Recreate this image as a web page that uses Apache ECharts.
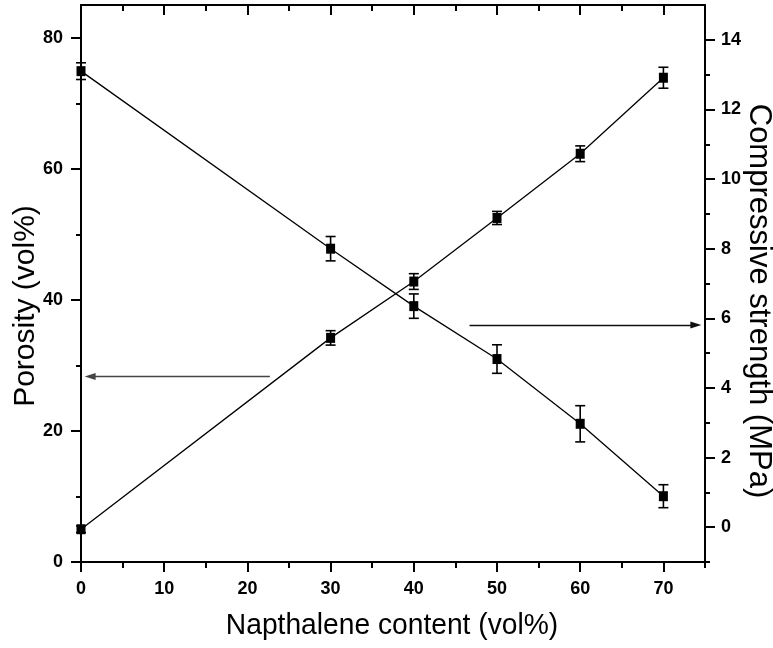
<!DOCTYPE html>
<html>
<head>
<meta charset="utf-8">
<script src="https://cdn.jsdelivr.net/npm/echarts@6/dist/echarts.min.js"></script>
<style>
  html, body { margin: 0; padding: 0; background: #fff; }
  #chart { width: 773px; height: 648px; }
</style>
</head>
<body>
<div id="chart"></div>
<script>
// Napthalene content (vol%) of each sample
const napthalene = [0, 30, 40, 50, 60, 70];
// Porosity (vol%) and its error
const porosity = [5.0, 34.2, 42.8, 52.5, 62.3, 73.9];
const porosityErr = [0.5, 1.1, 1.2, 1.0, 1.2, 1.6];
// Compressive strength (MPa) and its error
const strength = [13.1, 8.0, 6.35, 4.83, 2.97, 0.89];
const strengthErr = [0.24, 0.35, 0.35, 0.41, 0.52, 0.33];

// Tick values
const xMajor = [0, 10, 20, 30, 40, 50, 60, 70];
const xMinor = [5, 15, 25, 35, 45, 55, 65, 75];
const leftMajor = [0, 20, 40, 60, 80];
const leftMinor = [10, 30, 50, 70];
const rightMajor = [0, 2, 4, 6, 8, 10, 12, 14];
const rightMinor = [-1, 1, 3, 5, 7, 9, 11, 13];

// Arrows pointing each curve to its axis: [tail, head] in data units
const porosityArrow = [[22.7, 28.3], [1.1, 28.3]];
const strengthArrow = [[46.7, 5.81], [73.9, 5.81]];

const FONT = 'Liberation Sans, Arial, Helvetica, sans-serif';
const X_RANGE = [0, 75];
const LEFT_RANGE = [0, 85];
const RIGHT_RANGE = [-1, 15];

const tickLabel = { fontFamily: FONT, fontWeight: 'bold', fontSize: 18, color: '#000' };
const axisLine = { show: true, onZero: false, lineStyle: { color: '#000', width: 2 } };
const hiddenLine = { show: false, onZero: false };

function xAxisDef(position, ticks, len, inside, labels) {
  return {
    type: 'value', position: position, min: X_RANGE[0], max: X_RANGE[1],
    axisLine: labels !== null ? axisLine : hiddenLine,
    axisTick: { show: true, inside: inside, length: len, customValues: ticks, lineStyle: { color: '#000', width: 2 } },
    axisLabel: labels ? Object.assign({ show: true, margin: 18, customValues: labels }, tickLabel) : { show: false },
    splitLine: { show: false }
  };
}
function yAxisDef(position, range, ticks, len, labels, margin) {
  return {
    type: 'value', position: position, min: range[0], max: range[1],
    axisLine: labels !== null ? axisLine : hiddenLine,
    axisTick: { show: true, inside: false, length: len, customValues: ticks, lineStyle: { color: '#000', width: 2 } },
    axisLabel: labels ? Object.assign({ show: true, margin: margin, customValues: labels }, tickLabel) : { show: false },
    splitLine: { show: false }
  };
}

function errorSeries(yIndex, vals, errs) {
  return {
    type: 'custom', xAxisIndex: 0, yAxisIndex: yIndex, z: 1, silent: true,
    encode: { x: 0, y: [1, 2] },
    data: napthalene.map((x, i) => [x, vals[i] - errs[i], vals[i] + errs[i]]),
    renderItem: function (params, api) {
      const x = api.value(0);
      const lo = api.coord([x, api.value(1)]);
      const hi = api.coord([x, api.value(2)]);
      const hw = 5;
      const style = { stroke: '#000', lineWidth: 1.6 };
      return {
        type: 'group',
        children: [
          { type: 'line', shape: { x1: lo[0], y1: lo[1], x2: hi[0], y2: hi[1] }, style: style },
          { type: 'line', shape: { x1: lo[0] - hw, y1: lo[1], x2: lo[0] + hw, y2: lo[1] }, style: style },
          { type: 'line', shape: { x1: hi[0] - hw, y1: hi[1], x2: hi[0] + hw, y2: hi[1] }, style: style }
        ]
      };
    }
  };
}

function arrowMark(arrow, color) {
  return {
    silent: true,
    symbol: ['none', 'triangle'],
    symbolSize: [7, 11],
    label: { show: false },
    lineStyle: { color: color, width: 1.4, type: 'solid' },
    emphasis: { disabled: true },
    data: [[{ coord: arrow[0] }, { coord: arrow[1] }]]
  };
}

function lineSeries(name, yIndex, vals, arrow, arrowColor) {
  return {
    name: name, type: 'line', xAxisIndex: 0, yAxisIndex: yIndex, z: 2,
    data: napthalene.map((x, i) => [x, vals[i]]),
    symbol: 'rect', symbolSize: [9, 10], showSymbol: true,
    lineStyle: { color: '#000', width: 1.3 },
    itemStyle: { color: '#000' },
    emphasis: { disabled: true },
    markLine: arrowMark(arrow, arrowColor),
    animation: false
  };
}

const chart = echarts.init(document.getElementById('chart'), null, { renderer: 'canvas' });
chart.setOption({
  animation: false,
  backgroundColor: '#fff',
  grid: { left: 81, right: 68, top: 5, bottom: 86, containLabel: false },
  xAxis: [
    xAxisDef('bottom', xMajor, 10, false, xMajor),
    xAxisDef('bottom', xMinor, 6, false, null),
    xAxisDef('top', xMajor, 10, true, false),
    xAxisDef('top', xMinor, 6, true, null)
  ],
  yAxis: [
    yAxisDef('left', LEFT_RANGE, leftMajor, 10, leftMajor, 18),
    yAxisDef('right', RIGHT_RANGE, rightMajor, 10, rightMajor, 16),
    yAxisDef('left', LEFT_RANGE, leftMinor, 5, null, 0),
    yAxisDef('right', RIGHT_RANGE, rightMinor, 5, null, 0)
  ],
  series: [
    errorSeries(0, porosity, porosityErr),
    errorSeries(1, strength, strengthErr),
    lineSeries('Porosity', 0, porosity, porosityArrow, '#444'),
    lineSeries('Compressive strength', 1, strength, strengthArrow, '#111')
  ],
  graphic: [
    {
      type: 'text', x: 392, y: 626, scaleX: 0.94,
      style: { text: 'Napthalene content (vol%)', fontFamily: FONT, fontSize: 30, fill: '#000', align: 'center', verticalAlign: 'middle' }
    },
    {
      type: 'text', x: 26, y: 306, rotation: Math.PI / 2,
      style: { text: 'Porosity (vol%)', fontFamily: FONT, fontSize: 30, fill: '#000', align: 'center', verticalAlign: 'middle' }
    },
    {
      type: 'text', x: 759, y: 301, rotation: -Math.PI / 2,
      style: { text: 'Compressive strength (MPa)', fontFamily: FONT, fontSize: 31, fill: '#000', align: 'center', verticalAlign: 'middle' }
    }
  ]
});
</script>
</body>
</html>
